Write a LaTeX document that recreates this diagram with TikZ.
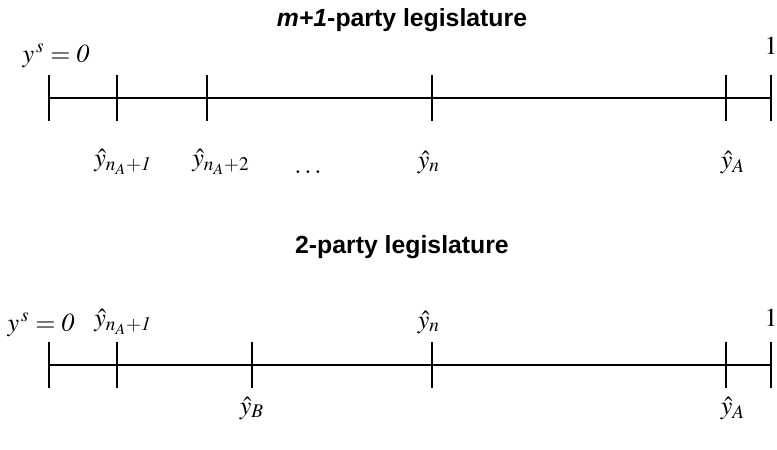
\documentclass[tikz,border=0pt]{standalone}
\usepackage{mathptmx}
\usepackage{fontspec}
\setmainfont{Liberation Serif}
\setsansfont{Liberation Sans}
\usetikzlibrary{positioning}

\begin{document}
\begin{tikzpicture}[x=0.5pt, y=-0.5pt, every node/.style={font=\fontsize{13}{15}\selectfont, inner sep=0pt}, ttl/.style={font=\fontsize{12.4}{14}\selectfont\sffamily\bfseries}, ax/.style={line width=1pt}]
\useasboundingbox (0,0) rectangle (777,450);
% m+1-party legislature
\node[ttl] (ttop) at (402,20) {\textit{m+1}-party legislature};
\coordinate (a0) at (49,98); \coordinate (a1) at (117,98); \coordinate (a2) at (207,98);
\coordinate (a3) at (432,98); \coordinate (a4) at (726,98); \coordinate (a5) at (771,98);
\draw[ax] (a0) -- (a5);
\foreach \p in {a0,a1,a2,a3,a4,a5} \draw[ax] (\p) ++(0,-23) -- ++(0,46);
\node (szero) at (56,56) {$y^{\,s}=\mathit{0}$};
\node (sone) at (771,46) {$1$};
\node (yna1) at (123,162) {$\hat{y}_{n_{A}+\mathit{1}}$};
\node (yna2) at (221,162) {$\hat{y}_{n_{A}+2}$};
\node (dots) at (308,172) {$\ldots$};
\node (yn) at (429,162) {$\hat{y}_{n}$};
\node (ya) at (733,162) {$\hat{y}_{A}$};
% 2-party legislature
\node[ttl] (tbot) at (402,247) {2-party legislature};
\coordinate (b0) at (49,365); \coordinate (b1) at (117,365); \coordinate (b2) at (252,365);
\coordinate (b3) at (432,365); \coordinate (b4) at (726,365); \coordinate (b5) at (771,365);
\draw[ax] (b0) -- (b5);
\foreach \p in {b0,b1,b2,b3,b4,b5} \draw[ax] (\p) ++(0,-23) -- ++(0,46);
\node (bzero) at (41,325) {$y^{\,s}=\mathit{0}$};
\node (bone) at (771,318) {$1$};
\node (byna1) at (123,322) {$\hat{y}_{n_{A}+\mathit{1}}$};
\node (byn) at (429,322) {$\hat{y}_{n}$};
\node (byb) at (252,408) {$\hat{y}_{B}$};
\node (bya) at (733,408) {$\hat{y}_{A}$};
\end{tikzpicture}
\end{document}
